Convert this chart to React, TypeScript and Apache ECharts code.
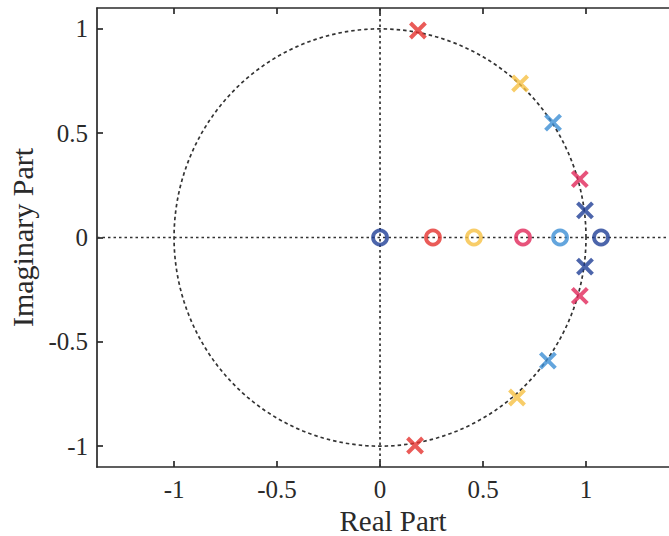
import React, { useEffect, useRef } from "react";
import * as echarts from "echarts";

// Pole–zero map of a digital filter cascade; one colour per section.
const sectionColors = ["#e5322e", "#f6c143", "#3c8fd5", "#e1285a", "#1f3f96"];

// Poles (x markers): real part, imaginary part, section index
const poleReal = [0.184, 0.17, 0.68, 0.665, 0.84, 0.815, 0.97, 0.97, 0.995, 0.995];
const poleImag = [0.992, -0.997, 0.738, -0.767, 0.551, -0.59, 0.28, -0.28, 0.13, -0.14];
const poleSection = [0, 0, 1, 1, 2, 2, 3, 3, 4, 4];

// Zeros (o markers): all on the real axis
const zeroReal = [0.0, 0.257, 0.456, 0.694, 0.874, 1.073];
const zeroImag = [0, 0, 0, 0, 0, 0];
const zeroSection = [4, 0, 1, 3, 2, 4];

// Axis ranges and tick labels
const xRange = [-1.374, 1.5];
const yRange = [-1.1, 1.1];
const xTicks = [-1, -0.5, 0, 0.5, 1];
const yTicks = [-1, -0.5, 0, 0.5, 1];

const FONT = "'Liberation Serif', 'DejaVu Serif', serif";
const INK = "#2a2a2a";
const CROSS = "path://M0,0L10,10M10,0L0,10";

export default function App() {
  const ref = useRef<HTMLDivElement>(null);

  useEffect(() => {
    if (!ref.current) return;
    const chart = echarts.init(ref.current, null, { renderer: "svg" });

    // Unit circle reference outline
    const unitCircle: number[][] = [];
    for (let k = 0; k <= 360; k += 2) {
      const a = (k * Math.PI) / 180;
      unitCircle.push([Math.cos(a), Math.sin(a)]);
    }

    const guideStyle = { color: "#333", width: 1.7, type: [2.5, 3] as number[] };

    const series: any[] = [
      {
        type: "line",
        data: unitCircle,
        symbol: "none",
        lineStyle: { color: "#333", width: 1.7, type: [3.5, 3] },
        z: 1,
        silent: true,
      },
      {
        type: "line",
        data: [[xRange[0], 0], [xRange[1], 0]],
        symbol: "none",
        lineStyle: guideStyle,
        z: 1,
        silent: true,
      },
      {
        type: "line",
        data: [[0, yRange[0]], [0, yRange[1]]],
        symbol: "none",
        lineStyle: guideStyle,
        z: 1,
        silent: true,
      },
    ];

    sectionColors.forEach((color, s) => {
      const poles = poleReal
        .map((re, i) => [re, poleImag[i], poleSection[i]])
        .filter((p) => p[2] === s)
        .map((p) => [p[0], p[1]]);
      const zeros = zeroReal
        .map((re, i) => [re, zeroImag[i], zeroSection[i]])
        .filter((p) => p[2] === s)
        .map((p) => [p[0], p[1]]);
      series.push({
        type: "scatter",
        data: poles,
        symbol: CROSS,
        symbolSize: 15,
        itemStyle: { color: "none", borderColor: color, borderWidth: 4 },
        z: 5,
      });
      series.push({
        type: "scatter",
        data: zeros,
        symbol: "circle",
        symbolSize: 14,
        itemStyle: { color: "rgba(255,255,255,0)", borderColor: color, borderWidth: 3.8 },
        z: 5,
      });
    });

    const axisLine = { show: true, onZero: false, lineStyle: { color: INK, width: 1.7 } };

    chart.setOption({
      animation: false,
      backgroundColor: "#ffffff",
      grid: { left: 97, top: 8, right: 11, bottom: 69, outerBoundsMode: "none" },
      xAxis: [
        {
          type: "value",
          min: xRange[0],
          max: xRange[1],
          position: "bottom",
          name: "Real Part",
          nameLocation: "middle",
          nameGap: 36,
          nameTextStyle: { fontFamily: FONT, fontSize: 29, color: INK },
          axisLine,
          axisTick: {
            show: true,
            inside: true,
            length: 6,
            customValues: xTicks,
            lineStyle: { color: INK, width: 1.7 },
          },
          axisLabel: {
            customValues: xTicks,
            fontFamily: FONT,
            fontSize: 25,
            color: INK,
            margin: 10,
          },
          splitLine: { show: false },
        },
        {
          type: "value",
          min: xRange[0],
          max: xRange[1],
          position: "top",
          axisLine,
          axisTick: {
            show: true,
            inside: true,
            length: 6,
            customValues: xTicks,
            lineStyle: { color: INK, width: 1.7 },
          },
          axisLabel: { show: false },
          splitLine: { show: false },
        },
      ],
      yAxis: {
        type: "value",
        min: yRange[0],
        max: yRange[1],
        name: "Imaginary Part",
        nameLocation: "middle",
        nameGap: 56,
        nameTextStyle: { fontFamily: FONT, fontSize: 30, color: INK },
        axisLine,
        axisTick: {
          show: true,
          inside: true,
          length: 6,
          customValues: yTicks,
          lineStyle: { color: INK, width: 1.7 },
        },
        axisLabel: {
          customValues: yTicks,
          fontFamily: FONT,
          fontSize: 25,
          color: INK,
          margin: 9,
        },
        splitLine: { show: false },
      },
      series,
    });

    return () => chart.dispose();
  }, []);

  return (
    <div
      style={{
        position: "absolute",
        left: 0,
        top: 0,
        width: 669,
        height: 536,
        overflow: "hidden",
        background: "#fff",
      }}
    >
      <div ref={ref} style={{ width: 700, height: 536 }} />
    </div>
  );
}
